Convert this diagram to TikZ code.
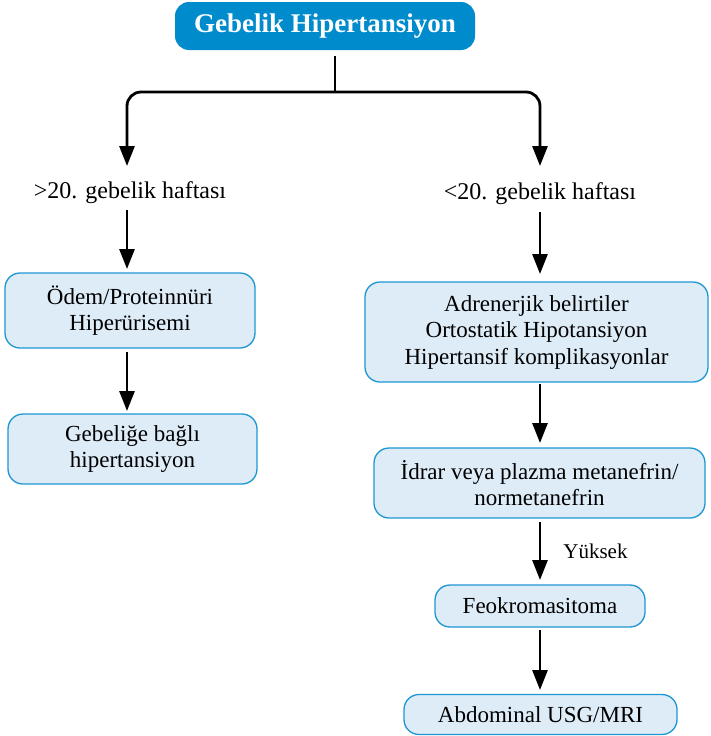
\documentclass[tikz,border=0pt]{standalone}
\usepackage{fontspec}
\setmainfont{Liberation Serif}
\usetikzlibrary{arrows.meta}
\definecolor{titleblue}{RGB}{0,139,204}
\definecolor{boxfill}{RGB}{222,236,248}
\definecolor{boxline}{RGB}{30,150,210}
\begin{document}
\begin{tikzpicture}[x=1pt,y=-1pt,
  titlebox/.style={fill=titleblue, rounded corners=14pt, text=white,
    font=\fontsize{27}{30}\selectfont\bfseries, minimum width=300pt, minimum height=48pt, inner sep=0pt},
  infobox/.style={draw=boxline, line width=1.3pt, fill=boxfill, rounded corners=15pt,
    align=center, font=\fontsize{23}{26.5}\selectfont, inner sep=0pt},
  plain/.style={font=\fontsize{24}{28}\selectfont, inner sep=0pt},
  small/.style={font=\fontsize{21}{24}\selectfont, inner sep=0pt},
  arr/.style={line width=2.8pt, -{Triangle[width=15pt,length=20pt]}},
  link/.style={line width=2.8pt}]
\useasboundingbox (0,0) rectangle (710,736);

% title
\node[titlebox] (title) at (325,26) {Gebelik Hipertansiyon};

% branch labels
\node[plain] (gt) at (130,193) {>20. gebelik haftası};
\node[plain] (lt) at (540,194) {<20. gebelik haftası};

% left column
\node[infobox, minimum width=250pt, minimum height=75pt] (odem) at (130,310.5)
  {Ödem/Proteinnüri\\Hiperürisemi};
\node[infobox, minimum width=249pt, minimum height=70pt] (gbh) at (132.5,449)
  {Gebeliğe bağlı\\hipertansiyon};

% right column
\node[infobox, minimum width=343pt, minimum height=100pt] (adr) at (536.5,332)
  {Adrenerjik belirtiler\\Ortostatik Hipotansiyon\\Hipertansif komplikasyonlar};
\node[infobox, minimum width=331pt, minimum height=70pt] (idr) at (539.5,483)
  {İdrar veya plazma metanefrin/\\normetanefrin};
\node[infobox, minimum width=210pt, minimum height=42pt] (feo) at (540,606)
  {Feokromasitoma};
\node[infobox, minimum width=273pt, minimum height=40pt] (abd) at (540.5,714.5)
  {Abdominal USG/MRI};

% split below the title
\coordinate (split) at (335,92);
\coordinate (gtend) at (127,166);
\coordinate (ltend) at (540,166);
\draw[link] (335,56) -- (split);
\draw[arr, rounded corners=14pt] (split) -| (gtend);
\draw[arr, rounded corners=14pt] (split) -| (ltend);

% left arrows
\draw[arr] (127,210) -- (127,269);
\draw[arr] (127,352) -- (127,411);

% right arrows
\draw[arr] (540,212) -- (540,274);
\draw[arr] (540,384) -- (540,443);
\draw[arr] (540,522) -- (540,580) node[small, midway, right=22pt] (yuk) {Yüksek};
\draw[arr] (540,630) -- (540,690);
\end{tikzpicture}
\end{document}
